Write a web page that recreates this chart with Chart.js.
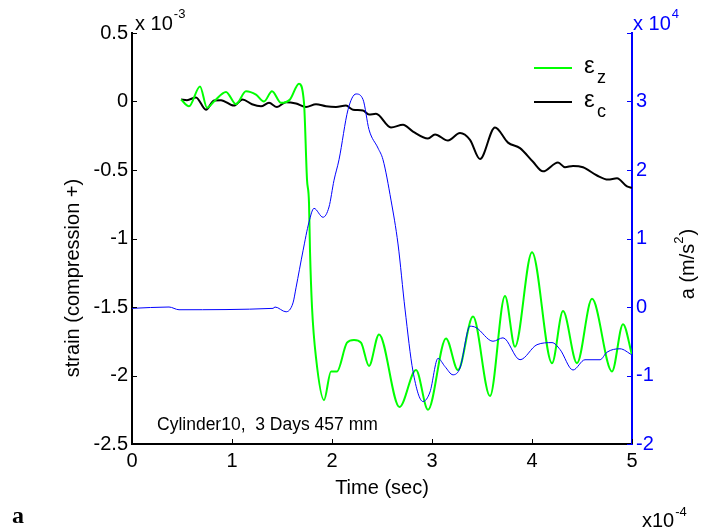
<!DOCTYPE html>
<html>
<head>
    <title>Cylinder10 strain / acceleration</title>
    <meta charset="utf-8" />
    <script src="https://cdn.jsdelivr.net/npm/chart.js@4.4.0/dist/chart.umd.min.js"></script>
    <style>
        body { margin: 0; background: #fff; }
    </style>
</head>
<body>
    <canvas id="chart" width="703" height="531"></canvas>

    <script>
        // time in units of 1e-4 s, strain in 1e-3, acceleration in 1e4 m/s^2
        const timeZ = [0.49, 0.57, 0.68, 0.75, 0.82, 0.94, 1.04, 1.14, 1.24, 1.32, 1.40, 1.49, 1.58, 1.67, 1.72,
                       1.75, 1.77, 1.78, 1.80, 1.84, 1.92, 1.99, 2.05, 2.15, 2.22, 2.29, 2.37, 2.47, 2.675, 2.84,
                       2.96, 3.14, 3.26, 3.41, 3.58, 3.73, 3.83, 4.00, 4.20, 4.31, 4.45, 4.60, 4.80, 4.91, 5.00];
        const strainZ = [0.015, -0.035, 0.11, -0.045, 0, 0.07, -0.02, 0.075, 0.05, 0, 0.075, -0.01, 0.015, 0.13, -0.01,
                         -0.57, -0.74, -1.09, -1.50, -1.87, -2.18, -1.97, -1.97, -1.76, -1.74, -1.76, -1.93, -1.70, -2.23, -1.96,
                         -2.25, -1.73, -1.96, -1.57, -2.15, -1.42, -1.79, -1.10, -1.91, -1.53, -1.91, -1.44, -1.97, -1.625, -1.85];

        const timeC = [0.49, 0.55, 0.64, 0.74, 0.82, 0.89, 1.02, 1.105, 1.20, 1.29, 1.37, 1.45, 1.54, 1.64, 1.74,
                       1.84, 1.94, 2.04, 2.14, 2.21, 2.31, 2.37, 2.44, 2.59, 2.71, 2.81, 2.96, 3.03, 3.16, 3.28,
                       3.38, 3.48, 3.63, 3.76, 3.88, 4.01, 4.11, 4.26, 4.33, 4.41, 4.51, 4.65, 4.76, 4.85, 4.95, 5.00];
        const strainC = [0.015, 0.01, 0.03, -0.06, 0.007, 0.01, -0.03, 0.015, -0.02, -0.035, -0.01, -0.04, -0.005, -0.015, -0.04,
                         -0.02, -0.035, -0.04, -0.03, -0.06, -0.065, -0.095, -0.09, -0.19, -0.17, -0.22, -0.27, -0.24, -0.285, -0.23,
                         -0.28, -0.42, -0.19, -0.30, -0.34, -0.44, -0.51, -0.445, -0.48, -0.47, -0.48, -0.54, -0.57, -0.56, -0.62, -0.63];

        const timeA = [0, 0.37, 0.47, 1.41, 1.43, 1.54, 1.61, 1.64, 1.71, 1.77, 1.82, 1.91, 1.97, 2.02, 2.07,
                       2.16, 2.24, 2.31, 2.37, 2.46, 2.51, 2.59, 2.66, 2.73, 2.81, 2.91, 2.98, 3.06, 3.13, 3.21,
                       3.28, 3.38, 3.44, 3.61, 3.71, 3.88, 4.05, 4.20, 4.28, 4.41, 4.53, 4.68, 4.75, 4.88, 5.00];
        const accelA = [-0.02, 0.0, -0.04, -0.02, 0, -0.07, 0.06, 0.28, 0.82, 1.24, 1.44, 1.31, 1.46, 1.85, 2.15,
                        2.88, 3.11, 3.03, 2.59, 2.32, 2.15, 1.56, 0.92, -0.03, -0.94, -1.38, -1.24, -0.75, -0.87, -0.99,
                        -0.89, -0.28, -0.30, -0.50, -0.45, -0.77, -0.55, -0.52, -0.62, -0.92, -0.77, -0.77, -0.66, -0.61, -0.70];

        const xTicks = [0, 1, 2, 3, 4, 5];
        const FONT = 'Arial, "Liberation Sans", sans-serif';
        const BLUE = '#0000ff';
        const GREEN = '#00ff00';

        function pts(xs, ys) {
            return xs.map((x, i) => ({ x: x, y: ys[i] }));
        }

        function fmt(v) {
            return String(Math.round(v * 10) / 10);
        }

        // draws text with a raised/lowered small part after it
        function textWithScript(ctx, main, script, x, y, size, smallSize, shift) {
            ctx.font = size + 'px ' + FONT;
            ctx.fillText(main, x, y);
            const w = ctx.measureText(main).width;
            ctx.font = smallSize + 'px ' + FONT;
            ctx.fillText(script, x + w + 1, y + shift);
        }

        const extras = {
            id: 'extras',
            afterDraw(chart) {
                const ctx = chart.ctx;
                const ca = chart.chartArea;
                const sx = chart.scales.x, sy = chart.scales.y, sy1 = chart.scales.y1;
                ctx.save();

                // inward tick marks
                ctx.lineWidth = 1;
                ctx.strokeStyle = '#000';
                ctx.beginPath();
                sx.ticks.forEach(t => {
                    const px = Math.round(sx.getPixelForValue(t.value)) + 0.5;
                    ctx.moveTo(px, ca.bottom); ctx.lineTo(px, ca.bottom - 5);
                });
                sy.ticks.forEach(t => {
                    const py = Math.round(sy.getPixelForValue(t.value)) + 0.5;
                    ctx.moveTo(ca.left, py); ctx.lineTo(ca.left + 5, py);
                });
                ctx.stroke();
                ctx.strokeStyle = BLUE;
                ctx.beginPath();
                sy1.ticks.forEach(t => {
                    const py = Math.round(sy1.getPixelForValue(t.value)) + 0.5;
                    ctx.moveTo(ca.right, py); ctx.lineTo(ca.right - 5, py);
                });
                ctx.stroke();

                // exponent labels
                ctx.textBaseline = 'alphabetic';
                ctx.textAlign = 'left';
                ctx.fillStyle = '#000';
                textWithScript(ctx, 'x 10', '-3', ca.left + 3, 30, 20, 13, -12);
                ctx.fillStyle = BLUE;
                textWithScript(ctx, 'x 10', '4', ca.right + 1, 30, 20, 13, -12);
                ctx.fillStyle = '#000';
                textWithScript(ctx, 'x10', '-4', 642, 527, 20, 13, -11);

                // note inside the axes
                ctx.font = '17.5px ' + FONT;
                ctx.textBaseline = 'middle';
                ctx.fillText('Cylinder10,  3 Days 457 mm', 157, 425);

                // x title
                ctx.font = '20px ' + FONT;
                ctx.textAlign = 'center';
                ctx.fillText('Time (sec)', (ca.left + ca.right) / 2, 488);

                // left y title
                ctx.save();
                ctx.translate(73, 278);
                ctx.rotate(-Math.PI / 2);
                ctx.fillText('strain (compression +)', 0, 0);
                ctx.restore();

                // right y title with superscript
                ctx.save();
                ctx.translate(688, 264);
                ctx.rotate(-Math.PI / 2);
                ctx.font = '20px ' + FONT;
                const w1 = ctx.measureText('a (m/s').width;
                ctx.font = '13px ' + FONT;
                const w2 = ctx.measureText('2').width;
                ctx.font = '20px ' + FONT;
                const w3 = ctx.measureText(')').width;
                const x0 = -(w1 + w2 + w3 + 1) / 2;
                ctx.textAlign = 'left';
                ctx.fillText('a (m/s', x0, 0);
                ctx.font = '13px ' + FONT;
                ctx.fillText('2', x0 + w1, -9);
                ctx.font = '20px ' + FONT;
                ctx.fillText(')', x0 + w1 + w2 + 1, 0);
                ctx.restore();

                // legend
                ctx.lineWidth = 2;
                ctx.strokeStyle = GREEN;
                ctx.beginPath(); ctx.moveTo(534, 68); ctx.lineTo(572, 68); ctx.stroke();
                ctx.strokeStyle = '#000';
                ctx.beginPath(); ctx.moveTo(534, 102); ctx.lineTo(572, 102); ctx.stroke();
                ctx.textAlign = 'left';
                ctx.textBaseline = 'middle';
                ctx.fillStyle = '#000';
                ctx.font = '24px ' + FONT;
                ctx.fillText('ε', 584, 66);
                ctx.fillText('ε', 584, 100);
                ctx.font = '18px ' + FONT;
                ctx.fillText('z', 597, 78);
                ctx.fillText('c', 597, 112);

                // panel letter
                ctx.font = 'bold 24px "Liberation Serif", "Times New Roman", serif';
                ctx.fillText('a', 12, 517);

                ctx.restore();
            }
        };

        new Chart(document.getElementById('chart'), {
            type: 'line',
            data: {
                datasets: [
                    {
                        label: 'a',
                        data: pts(timeA, accelA),
                        yAxisID: 'y1',
                        borderColor: BLUE,
                        borderWidth: 1,
                        order: 0
                    },
                    {
                        label: 'eps_z',
                        data: pts(timeZ, strainZ),
                        yAxisID: 'y',
                        borderColor: GREEN,
                        borderWidth: 2,
                        order: 1
                    },
                    {
                        label: 'eps_c',
                        data: pts(timeC, strainC),
                        yAxisID: 'y',
                        borderColor: '#000',
                        borderWidth: 2,
                        order: 2
                    }
                ]
            },
            options: {
                responsive: false,
                animation: false,
                devicePixelRatio: 1,
                layout: { padding: { top: 33, left: 0, right: 0, bottom: 0 } },
                elements: {
                    point: { radius: 0 },
                    line: { cubicInterpolationMode: 'monotone', fill: false }
                },
                plugins: {
                    legend: { display: false },
                    tooltip: { enabled: false }
                },
                scales: {
                    x: {
                        type: 'linear',
                        min: 0,
                        max: 5,
                        afterBuildTicks: s => { s.ticks = xTicks.map(v => ({ value: v })); },
                        afterFit: s => { s.height = 87; },
                        grid: { display: false, drawTicks: false },
                        border: { display: true, color: '#000', width: 2 },
                        ticks: { color: '#000', padding: 5, font: { family: FONT, size: 20 }, callback: fmt }
                    },
                    y: {
                        position: 'left',
                        min: -2.5,
                        max: 0.5,
                        afterFit: s => { s.width = 132; },
                        grid: { display: false, drawTicks: false },
                        border: { display: true, color: '#000', width: 2 },
                        ticks: { stepSize: 0.5, color: '#000', padding: 4, font: { family: FONT, size: 20 }, callback: fmt }
                    },
                    y1: {
                        position: 'right',
                        min: -2,
                        max: 4,
                        afterFit: s => { s.width = 71; },
                        grid: { display: false, drawTicks: false },
                        border: { display: true, color: BLUE, width: 2 },
                        ticks: {
                            stepSize: 1,
                            color: BLUE,
                            padding: 4,
                            font: { family: FONT, size: 20 },
                            callback: v => (v === 4 ? '' : fmt(v))
                        }
                    }
                }
            },
            plugins: [extras]
        });
    </script>
</body>
</html>
